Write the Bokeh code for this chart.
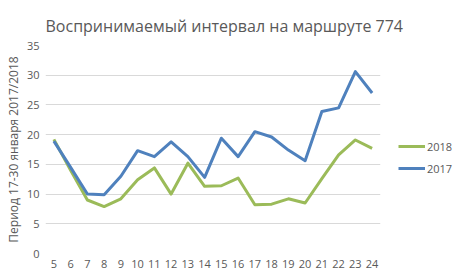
from bokeh.plotting import figure
from bokeh.models import Range1d, FixedTicker, Legend, LegendItem
from bokeh.embed import file_html
from bokeh.resources import INLINE

days = [5, 6, 7, 8, 9, 10, 11, 12, 13, 14, 15, 16, 17, 18, 19, 20, 21, 22, 23, 24]
y2018 = [19.2, 14.0, 9.0, 7.9, 9.2, 12.4, 14.4, 10.0, 15.2, 11.3, 11.4, 12.7, 8.2, 8.3, 9.2, 8.5, 12.6, 16.6, 19.1, 17.7]
y2017 = [18.9, 14.5, 10.0, 9.9, 13.0, 17.3, 16.3, 18.8, 16.3, 12.8, 19.4, 16.3, 20.5, 19.6, 17.4, 15.6, 23.9, 24.5, 30.6, 27.0]
y_ticks = [0, 5, 10, 15, 20, 25, 30, 35]
title_text = "Воспринимаемый интервал на маршруте 774"
y_label = "Период 17-30 января 2017/2018"

FONT = "Open Sans"
GREY = "#595959"

p = figure(frame_width=335, frame_height=208, output_backend="svg", toolbar_location=None,
           x_range=Range1d(4.5, 24.5), y_range=Range1d(0, 35),
           min_border_left=45, min_border_right=79, min_border_top=45, min_border_bottom=23)
p.outline_line_color = None
p.background_fill_color = "white"

p.title.text = title_text
p.title.align = "left"
p.title.offset = 0
p.title.standoff = 18
p.title.text_font = FONT
p.title.text_font_size = "16px"
p.title.text_font_style = "normal"
p.title.text_color = GREY

for ax in (p.xaxis[0], p.yaxis[0]):
    ax.axis_line_color = None
    ax.major_tick_line_color = None
    ax.minor_tick_line_color = None
    ax.major_tick_out = 0
    ax.major_tick_in = 0
    ax.minor_tick_out = 0
    ax.major_label_text_font = FONT
    ax.major_label_text_font_size = "11px"
    ax.major_label_text_color = GREY

p.xaxis.ticker = FixedTicker(ticks=days)
p.yaxis.ticker = FixedTicker(ticks=y_ticks)
p.yaxis.axis_label = y_label
p.yaxis.axis_label_text_font = FONT
p.yaxis.axis_label_text_font_size = "12px"
p.yaxis.axis_label_text_font_style = "normal"
p.yaxis.axis_label_text_color = GREY
p.yaxis.axis_label_standoff = 2
p.yaxis.major_label_standoff = 6
p.xaxis.major_label_standoff = 6

p.xgrid.grid_line_color = None
p.ygrid.grid_line_color = "#d9d9d9"
p.ygrid.grid_line_width = 1

r18 = p.line(days, y2018, line_color="#9BBB59", line_width=3, line_join="round")
r17 = p.line(days, y2017, line_color="#4F81BD", line_width=3, line_join="round")

legend = Legend(items=[LegendItem(label="2018", renderers=[r18]),
                       LegendItem(label="2017", renderers=[r17])],
                location=(18, 77), border_line_color=None, background_fill_alpha=0,
                label_text_font=FONT, label_text_font_size="11px", label_text_color=GREY,
                glyph_width=27, glyph_height=16, label_height=16,
                spacing=6, padding=0, margin=0, label_standoff=2)
p.add_layout(legend, "right")

open("out.html", "w").write(file_html(p, INLINE))
